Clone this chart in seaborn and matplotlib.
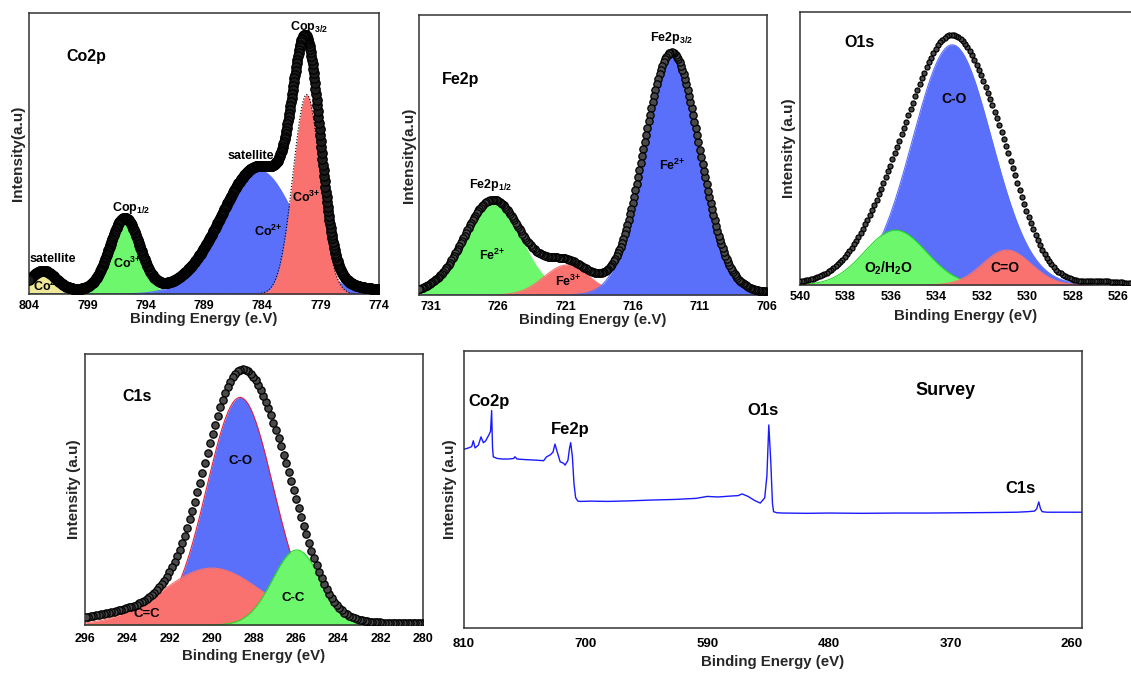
import numpy as np
import matplotlib
matplotlib.use('Agg')
import matplotlib.pyplot as plt
import seaborn as sns

sns.set_theme(style='white')
plt.rcParams['font.family'] = ['Liberation Sans', 'DejaVu Sans']
plt.rcParams['font.weight'] = 'bold'
plt.rcParams['axes.labelweight'] = 'bold'
plt.rcParams['mathtext.fontset'] = 'custom'
plt.rcParams['mathtext.rm'] = 'Liberation Sans:bold'
plt.rcParams['mathtext.bf'] = 'Liberation Sans:bold'
plt.rcParams['mathtext.it'] = 'Liberation Sans:bold'
plt.rcParams['mathtext.default'] = 'bf'

W, H = 1131, 674

# ---------------- data ----------------
# Co2p fitted components: centre (eV), FWHM (eV), height (a.u.)
co_xlim = [804, 774]
co_ticks = [804, 799, 794, 789, 784, 779, 774]
co_centers = [802.8, 795.8, 784.3, 780.2]
co_fwhm = [2.5, 3.0, 7.5, 2.75]
co_heights = [6.8, 25.6, 44.0, 71.0]
co_colors = ['#eee898', '#6df76d', '#5a6ffa', '#f9726f']
co_env_centers = [802.8, 795.8, 784.3, 780.2]
co_env_fwhm = [2.5, 3.0, 7.5, 2.75]
co_env_heights = [6.8, 25.6, 44.0, 71.0]
co_env_base = 1.5

# Fe2p
fe_xlim = [731.9, 706]
fe_ticks = [731, 726, 721, 716, 711, 706]
fe_centers = [726.4, 720.9, 713.1]
fe_fwhm = [5.0, 4.0, 4.85]
fe_heights = [33.0, 10.7, 85.7]
fe_colors = ['#6df76d', '#f9726f', '#5a6ffa']
fe_env_centers = [726.4, 720.9, 713.1]
fe_env_fwhm = [5.0, 4.0, 4.85]
fe_env_heights = [33.0, 10.7, 85.7]
fe_env_base = 1.0

# O1s
o_xlim = [540, 525.43]
o_ticks = [540, 538, 536, 534, 532, 530, 528, 526]
o_centers = [533.3, 535.8, 530.9]
o_fwhm = [4.1, 3.2, 2.5]
o_heights = [88.0, 20.1, 12.8]
o_colors = ['#5a6ffa', '#6df76d', '#f9726f']
o_env_centers = [533.15, 535.8, 530.8, 526.8]
o_env_fwhm = [3.95, 3.6, 2.5, 1.2]
o_env_heights = [84.0, 24.0, 15.0, 0.7]
o_env_base = 0.8

# C1s
c_xlim = [296, 280]
c_ticks = [296, 294, 292, 290, 288, 286, 284, 282, 280]
c_centers = [288.66, 290.0, 285.98]
c_fwhm = [3.7, 5.5, 2.7]
c_heights = [84.0, 21.0, 27.7]
c_colors = ['#5a6ffa', '#f9726f', '#6df76d']
c_env_centers = [290.5, 288.66, 286.3]
c_env_fwhm = [8.0, 3.9, 2.8]
c_env_heights = [9.0, 83.0, 20.0]
c_env_base = 0.5

# Survey spectrum
s_xlim = [810, 251]
s_ticks = [810, 700, 590, 480, 370, 260]
survey_be = [810, 806, 803, 801.6, 800, 797, 794.6, 792.5, 790.5, 787.5, 786, 785,
             784.2, 783.5, 780, 775, 770, 765, 763.9, 762, 755, 745, 738, 735.3,
             732, 729.5, 727.7, 726, 723, 720, 718.6, 716, 714.5, 713.5, 712,
             710.5, 709, 707, 705, 695, 680, 660, 640, 620, 600, 590, 580, 570,
             562, 558.5, 553, 547, 542, 538, 536, 534.3, 532.5, 531, 530, 527,
             522, 500, 480, 450, 420, 390, 360, 330, 310, 300, 294, 292, 290.1,
             288.5, 287, 283, 270, 251]
survey_int = [64.5, 65.0, 65.5, 67.6, 65.0, 66.0, 69.0, 66.9, 67.5, 69.7, 71.0, 78.5,
              65.0, 61.8, 61.2, 61.0, 61.0, 61.2, 61.8, 61.0, 60.8, 60.6, 60.4, 61.8,
              62.5, 63.5, 66.4, 64.0, 60.0, 59.5, 58.8, 60.5, 65.0, 66.9, 62.0,
              52.0, 47.0, 45.8, 45.7, 45.8, 45.7, 45.9, 46.2, 46.4, 46.8, 47.5, 47.3, 47.6,
              47.8, 48.4, 47.5, 46.0, 45.1, 47.0, 55.0, 73.3, 60.0, 45.0, 42.0, 41.6,
              41.5, 41.4, 41.5, 41.4, 41.5, 41.5, 41.6, 41.7, 41.8, 42.0, 42.2, 43.0, 45.5,
              43.0, 42.0, 41.8, 41.8, 41.8]

# Peak / panel labels: text, energy, intensity, fontsize, alignment
co_labels = [('Co2p', 800.8, 84.5, 11.5, 'left'), ('satellite', 801.99, 12.4, 9, 'center'),
             ('Co$^{2{+}}$', 802.46, 2.6, 9, 'center'), ('Cop$_{1/2}$', 795.27, 30.6, 9, 'center'),
             ('Co$^{3{+}}$', 795.56, 10.9, 9, 'center'), ('satellite', 785.0, 49.1, 9, 'center'),
             ('Co$^{2{+}}$', 783.49, 22.4, 9, 'center'), ('Co$^{3{+}}$', 780.2, 34.4, 9, 'center'),
             ('Cop$_{3/2}$', 780.0, 95.1, 9, 'center')]
fe_labels = [('Fe2p', 728.79, 76.8, 11.5, 'center'), ('Fe2p$_{1/2}$', 726.54, 39.3, 9, 'center'),
             ('Fe$^{2{+}}$', 726.43, 14.3, 9, 'center'), ('Fe$^{3{+}}$', 720.83, 4.9, 9, 'center'),
             ('Fe$^{2{+}}$', 713.04, 46.4, 9, 'center'), ('Fe2p$_{3/2}$', 713.13, 91.7, 9, 'center')]
o_labels = [('O1s', 537.39, 88.8, 11.5, 'center'), ('C-O', 533.21, 68.0, 10, 'center'),
            ('O$_2$/H$_2$O', 536.1, 6.3, 10, 'center'), ('C=O', 530.97, 6.3, 10, 'center')]
c_labels = [('C1s', 293.53, 84.2, 11.5, 'center'), ('C-O', 288.64, 60.6, 9.5, 'center'),
            ('C=C', 293.08, 3.9, 9.5, 'center'), ('C-C', 286.14, 9.8, 9.5, 'center')]
s_labels = [('Co2p', 787.7, 81.6, 12, 'center'), ('Fe2p', 713.8, 71.7, 12, 'center'),
            ('O1s', 539.4, 78.4, 12, 'center'), ('Survey', 374.3, 85.8, 13, 'center'),
            ('C1s', 306.2, 50.5, 12, 'center')]


def gauss(e, c, f, h):
    return h * np.exp(-4.0 * np.log(2.0) * (e - c) ** 2 / f ** 2)


fig = plt.figure(figsize=(W / 100, H / 100), dpi=100)
fig.patch.set_facecolor('white')


def make_ax(l, t, r, b):
    return fig.add_axes([l / W, 1 - b / H, (r - l) / W, (b - t) / H])


def style(ax, xlim, ticks, xlabel, ylabel, tick_fs=9, lab_fs=10.8, tpad=4.5, xpad=0, ypad=3,
          hide_right=False):
    ax.set_xlim(*xlim)
    ax.set_ylim(0, 100)
    ax.set_xticks(ticks)
    ax.set_xticklabels([str(t) for t in ticks], fontsize=tick_fs, fontweight='bold')
    ax.set_yticks([])
    ax.tick_params(axis='x', length=0, pad=tpad, colors='black')
    ax.set_xlabel(xlabel, fontsize=lab_fs, fontweight='bold', labelpad=xpad)
    ax.set_ylabel(ylabel, fontsize=11, fontweight='bold', labelpad=ypad)
    for s in ax.spines.values():
        s.set_color('#333333')
        s.set_linewidth(1.1)
    if hide_right:
        ax.spines['right'].set_visible(False)
    ax.grid(False)
    ax.set_facecolor('white')


def peak_panel(ax, xlim, centers, fwhm, heights, colors, env_c, env_f, env_h, env_b,
               step, msize, mface='#4a4a4a', edge_styles=None):
    e = np.arange(min(xlim), max(xlim) + step / 2, step)
    for i, (c, f, h, col) in enumerate(zip(centers, fwhm, heights, colors)):
        y = gauss(e, c, f, h)
        ax.fill_between(e, 0, y, color=col, linewidth=0, zorder=2 + i * 0.1)
        ls = '-'
        ec = col
        if edge_styles is not None and edge_styles[i] is not None:
            ec, ls = edge_styles[i]
        ax.plot(e, y, color=ec, lw=0.8, ls=ls, zorder=2.05 + i * 0.1)
    env = np.full_like(e, env_b)
    for c, f, h in zip(env_c, env_f, env_h):
        env = env + gauss(e, c, f, h)
    sns.scatterplot(x=e, y=env, ax=ax, s=msize, color=mface, edgecolor='black',
                    linewidth=0.9, zorder=5, legend=False)


def add_labels(ax, labels):
    for txt, x, y, fs, ha in labels:
        ax.text(x, y, txt, fontsize=fs, fontweight='bold', ha=ha, va='center', color='black', zorder=6)


# ---- Co2p ----
ax1 = make_ax(29, 13, 379, 294)
peak_panel(ax1, co_xlim, co_centers, co_fwhm, co_heights, co_colors,
           co_env_centers, co_env_fwhm, co_env_heights, co_env_base, 0.05, 46,
           mface='#1c1c1c', edge_styles=[None, None, None, ('black', ':')])
add_labels(ax1, co_labels)
style(ax1, co_xlim, co_ticks, 'Binding Energy (e.V)', 'Intensity(a.u)')

# ---- Fe2p ----
ax2 = make_ax(419, 15, 767, 295)
peak_panel(ax2, fe_xlim, fe_centers, fe_fwhm, fe_heights, fe_colors,
           fe_env_centers, fe_env_fwhm, fe_env_heights, fe_env_base, 0.1, 28)
add_labels(ax2, fe_labels)
style(ax2, fe_xlim, fe_ticks, 'Binding Energy (e.V)', 'Intensity(a.u)', ypad=2)

# ---- O1s ----
ax3 = make_ax(800, 12, 1131, 285)
peak_panel(ax3, o_xlim, o_centers, o_fwhm, o_heights, o_colors,
           o_env_centers, o_env_fwhm, o_env_heights, o_env_base, 0.1, 13,
           edge_styles=[None, ('#22dd22', '-'), None])
add_labels(ax3, o_labels)
style(ax3, o_xlim, o_ticks, 'Binding Energy (eV)', 'Intensity (a.u)', xpad=4, hide_right=True)

# ---- C1s ----
ax4 = make_ax(85, 354, 423, 625)
peak_panel(ax4, c_xlim, c_centers, c_fwhm, c_heights, c_colors,
           c_env_centers, c_env_fwhm, c_env_heights, c_env_base, 0.12, 28,
           edge_styles=[('#e0203a', '-'), None, ('#22dd22', '-')])
add_labels(ax4, c_labels)
style(ax4, c_xlim, c_ticks, 'Binding Energy (eV)', 'Intensity (a.u)', tpad=5.5, xpad=3)

# ---- Survey ----
ax5 = make_ax(464, 351, 1082, 628)
sns.lineplot(x=survey_be, y=survey_int, ax=ax5, color='#1a1aff', lw=1.0,
             estimator=None, legend=False)
add_labels(ax5, s_labels)
style(ax5, s_xlim, s_ticks, 'Binding Energy (eV)', 'Intensity (a.u)', tick_fs=9.5,
      tpad=7, xpad=4, ypad=5)

fig.savefig('out.png', dpi=100, facecolor='white')
